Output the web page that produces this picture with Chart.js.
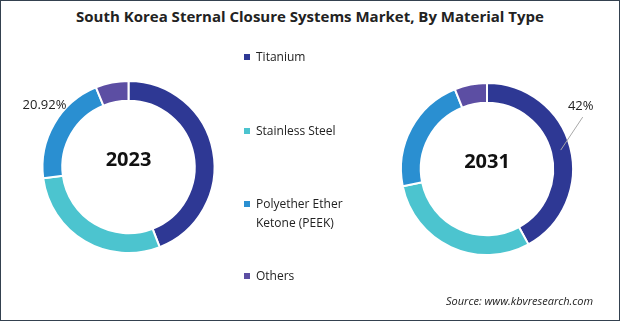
<!DOCTYPE html>
<html>
<head>
<meta charset="utf-8">
<script src="https://cdn.jsdelivr.net/npm/chart.js@4"></script>
<style>
  html, body { margin: 0; padding: 0; background: #fff; }
  body { width: 620px; height: 321px; position: relative; overflow: hidden; font-family: "Open Sans", sans-serif; }
  #frame { position: absolute; left: 0; top: 0; width: 618px; height: 319px; border: 1px solid #34414f; }
  #title { position: absolute; left: 0; top: 6px; width: 620px; text-align: center; font-weight: 700; font-size: 15px; color: #222; }
  #source { position: absolute; left: 446px; top: 293px; font-size: 11px; font-style: italic; color: #222; }
  .leg { position: absolute; left: 244px; font-size: 12px; line-height: 19px; color: #222; }
  .leg span.sw { position: absolute; left: 0; top: 7px; width: 6px; height: 6px; }
  .leg span.tx { display: block; margin-left: 12px; width: 110px; }
  canvas { position: absolute; }
</style>
</head>
<body>
<div id="frame"></div>
<div id="title">South Korea Sternal Closure Systems Market, By Material Type</div>
<canvas id="canva1" width="257" height="254" style="left:0px;top:40px;"></canvas>
<canvas id="canva2" width="220" height="258" style="left:377px;top:40px;"></canvas>
<div id="source">Source: www.kbvresearch.com</div>
<script>
// data
let materiales = ["Titanium", "Stainless Steel", "Polyether Ether Ketone (PEEK)", "Others"];
let colores = ["#2e3894", "#4cc4cf", "#2a8fd1", "#5c4ea3"];
let anios = ["2023", "2031"];
let datos2023 = [44.1, 28.8, 20.92, 6.18];
let datos2031 = [42, 29.8, 22.1, 6.1];
let etiquetas2023 = ["", "", "20.92%", ""];
let etiquetas2031 = ["42%", "", "", ""];

// legend (HTML)
let posLeyenda = [47, 121, 194, 266];
materiales.forEach(function(m, i){
    let d = document.createElement("div");
    d.className = "leg";
    d.style.top = posLeyenda[i] + "px";
    d.innerHTML = '<span class="sw" style="background:' + colores[i] + '"></span><span class="tx">' + m + '</span>';
    document.body.appendChild(d);
});

// center text + value labels
let textoCentro = {
    id: "textoCentro",
    afterDraw: function(chart){
        let ctx = chart.ctx;
        let arco = chart.getDatasetMeta(0).data[0];
        let cx = arco.x, cy = arco.y;
        ctx.save();
        ctx.fillStyle = "#111";
        ctx.font = "bold 20px 'Open Sans', sans-serif";
        ctx.textAlign = "center";
        ctx.textBaseline = "middle";
        ctx.fillText(chart.options.plugins.textoCentro.texto, cx, cy - 7);

        let etiquetas = chart.options.plugins.textoCentro.etiquetas;
        let lider = chart.options.plugins.textoCentro.lider;
        ctx.font = "13px 'Open Sans', sans-serif";
        chart.getDatasetMeta(0).data.forEach(function(a, i){
            if (!etiquetas[i]) return;
            let mid = (a.startAngle + a.endAngle) / 2;
            let rMed = (a.innerRadius + a.outerRadius) / 2;
            if (lider) {
                let x0 = cx + Math.cos(mid) * rMed, y0 = cy + Math.sin(mid) * rMed;
                let x1 = x0 + 22, y1 = y0 - 33;
                ctx.strokeStyle = "#a8a8a8";
                ctx.lineWidth = 1;
                ctx.beginPath();
                ctx.moveTo(x0, y0);
                ctx.lineTo(x1, y1);
                ctx.stroke();
                ctx.fillStyle = "#222";
                ctx.fillText(etiquetas[i], x1 - 2, y1 - 11);
            } else {
                let r = a.outerRadius + 18;
                let x = cx + Math.cos(mid) * r + 6, y = cy + Math.sin(mid) * r - 10;
                ctx.fillStyle = "#222";
                ctx.fillText(etiquetas[i], x, y);
            }
        });
        ctx.restore();
    }
};

function dona(id, datos, anio, etiquetas, lider){
    let ctx = document.getElementById(id).getContext("2d");
    return new Chart(ctx, {
        type: "doughnut",
        data: {
            labels: materiales,
            datasets: [{
                data: datos,
                backgroundColor: colores,
                borderColor: "#ffffff",
                borderWidth: 2
            }]
        },
        options: {
            responsive: false,
            animation: false,
            radius: 86,
            cutout: "77%",
            layout: { padding: 0 },
            plugins: {
                legend: { display: false },
                tooltip: { enabled: false },
                textoCentro: { texto: anio, etiquetas: etiquetas, lider: lider }
            }
        },
        plugins: [textoCentro]
    });
}

window.onload = function(){
    dona("canva1", datos2023, anios[0], etiquetas2023, false);
    dona("canva2", datos2031, anios[1], etiquetas2031, true);
};
</script>
</body>
</html>
